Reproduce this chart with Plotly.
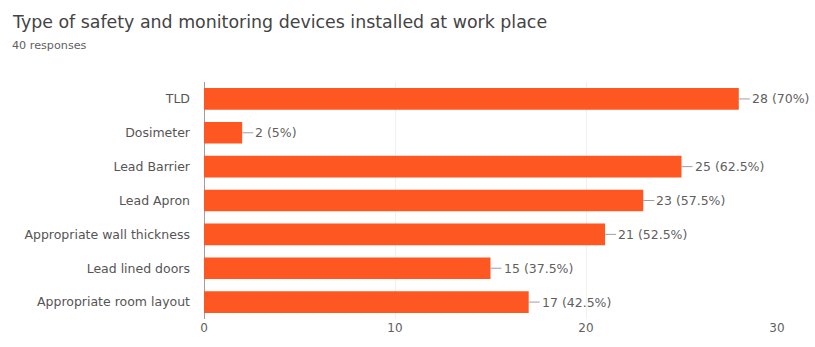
import plotly.graph_objects as go

categories = ["TLD", "Dosimeter", "Lead Barrier", "Lead Apron",
              "Appropriate wall thickness", "Lead lined doors", "Appropriate room layout"]
counts = [28, 2, 25, 23, 21, 15, 17]
percents = ["70%", "5%", "62.5%", "57.5%", "52.5%", "37.5%", "42.5%"]
tick_vals = [0, 10, 20, 30]

FONT = "DejaVu Sans, Arial, sans-serif"

fig = go.Figure()
fig.add_trace(go.Bar(
    x=counts, y=categories, orientation="h",
    marker=dict(color="#FF5722", line=dict(width=0)),
    hoverinfo="skip",
))

for c, cat, p in zip(counts, categories, percents):
    fig.add_annotation(
        x=c, y=cat, xref="x", yref="y",
        text=f"{c} ({p})", showarrow=True, arrowhead=0, arrowwidth=1,
        arrowcolor="#9e9e9e", ax=11, ay=0, xanchor="left",
        font=dict(family=FONT, size=12.5, color="#5f5f5f"),
    )

fig.add_annotation(
    text="Type of safety and monitoring devices installed at work place",
    xref="paper", yref="paper", x=0, y=1, xanchor="left", yanchor="top",
    showarrow=False, font=dict(family=FONT, size=17.4, color="#444444"),
    xshift=-194, yshift=72,
)
fig.add_annotation(
    text="40 responses",
    xref="paper", yref="paper", x=0, y=1, xanchor="left", yanchor="top",
    showarrow=False, font=dict(family=FONT, size=11.2, color="#5f5f5f"),
    xshift=-194, yshift=45,
)

fig.update_layout(
    width=815, height=347,
    margin=dict(l=204, r=38, t=82, b=19),
    paper_bgcolor="white", plot_bgcolor="white",
    showlegend=False, bargap=0.36,
    font=dict(family=FONT, size=12, color="#555555"),
)
fig.update_xaxes(range=[0, 30], tickvals=tick_vals, showgrid=True, gridcolor="#f0f0f0",
                 zeroline=True, zerolinecolor="#9e9e9e", zerolinewidth=1,
                 tickfont=dict(family=FONT, size=12, color="#5f5f5f"), fixedrange=True)
fig.update_yaxes(autorange="reversed", ticks="", ticklabelstandoff=13,
                 tickfont=dict(family=FONT, size=12.5, color="#555555"), fixedrange=True)

fig.write_html("out.html")
